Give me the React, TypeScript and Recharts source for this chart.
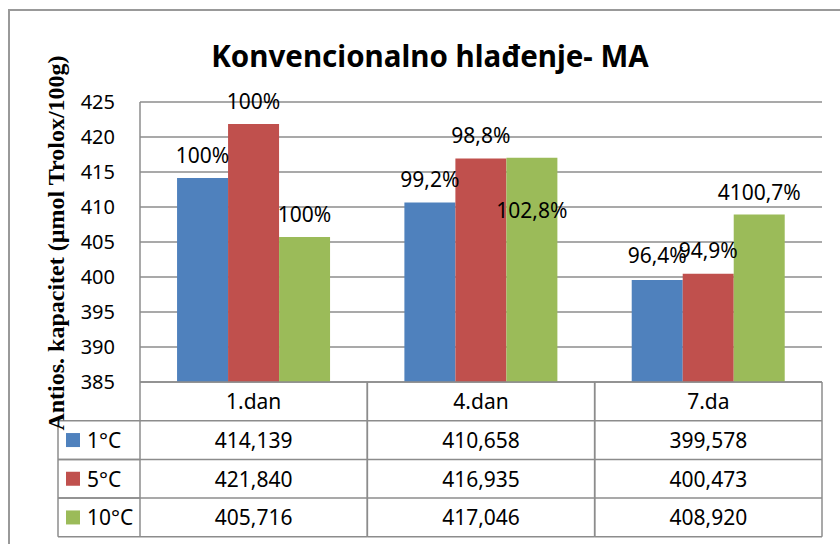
import { BarChart, Bar, XAxis, YAxis, CartesianGrid, LabelList } from 'recharts';

const categories = ['1.dan', '4.dan', '7.da'];
const series = ['1°C', '5°C', '10°C'];
const values1 = [414.139, 410.658, 399.578];
const values5 = [421.84, 416.935, 400.473];
const values10 = [405.716, 417.046, 408.92];
const pct1 = ['100%', '99,2%', '96,4%'];
const pct5 = ['100%', '98,8%', '94,9%'];
const pct10 = ['100%', '102,8%', '4100,7%'];
const yTicks = [385, 390, 395, 400, 405, 410, 415, 420, 425];

const COLORS = ['#4F81BD', '#C0504D', '#9BBB59'];
const GRID = '#8c8c8c';
const FONT = '"Noto Sans", "Open Sans", sans-serif';

const W = 840;
const H = 544;
const M = { top: 102, right: 18, bottom: 7, left: 100 };
const Y_AXIS_W = 40;
const PLOT_W = W - M.left - M.right - Y_AXIS_W;
const COL_W = PLOT_W / categories.length;
const ROW_H = 38.7;
const LEGEND_W = 82;

const allValues = [values1, values5, values10];
const allPct = [pct1, pct5, pct10];

const data = categories.map((name, i) => ({
  name,
  s0: values1[i],
  s1: values5[i],
  s2: values10[i],
}));

// manual nudges for labels (Excel had one dragged inside the bar)
const LABEL_DY = [
  [-23, -23, -25],
  [-23, -23, -24],
  [-23, 52, -23],
];

const fmt = (v: number) => v.toFixed(3).replace('.', ',');

function makeLabel(si: number) {
  return (props: any) => {
    const { x, y, width, index } = props;
    return (
      <text
        x={x + width / 2}
        y={y + LABEL_DY[si][index]}
        textAnchor="middle"
        dominantBaseline="central"
        fontFamily={FONT}
        fontSize={21}
        fill="#000"
      >
        {allPct[si][index]}
      </text>
    );
  };
}

function TableTick(props: any) {
  const { x, y, payload } = props;
  const i = payload.index;
  const left = x - COL_W / 2;
  const right = x + COL_W / 2;
  const rows = series.length + 1;
  const bottom = y + ROW_H * rows;
  return (
    <g>
      <line x1={left} y1={y} x2={left} y2={bottom} stroke={GRID} strokeWidth={1.5} />
      <line x1={right} y1={y} x2={right} y2={bottom} stroke={GRID} strokeWidth={1.5} />
      {Array.from({ length: rows }, (_, r) => (
        <line key={r} x1={left} y1={y + ROW_H * (r + 1)} x2={right} y2={y + ROW_H * (r + 1)} stroke={GRID} strokeWidth={1.5} />
      ))}
      <text x={x} y={y + ROW_H / 2} textAnchor="middle" dominantBaseline="central" fontFamily={FONT} fontSize={21} fill="#000">
        {payload.value}
      </text>
      {series.map((_, s) => (
        <text
          key={s}
          x={x}
          y={y + ROW_H * (s + 1.5)}
          textAnchor="middle"
          dominantBaseline="central"
          fontFamily={FONT}
          fontSize={21}
          fill="#000"
        >
          {fmt(allValues[s][i])}
        </text>
      ))}
      {i === 0 && (
        <g>
          <line x1={left - LEGEND_W} y1={y + ROW_H} x2={left - LEGEND_W} y2={bottom} stroke={GRID} strokeWidth={1.5} />
          {series.map((name, s) => (
            <g key={name}>
              <line
                x1={left - LEGEND_W}
                y1={y + ROW_H * (s + 2)}
                x2={left}
                y2={y + ROW_H * (s + 2)}
                stroke={GRID}
                strokeWidth={1.5}
              />
              <line
                x1={left - LEGEND_W}
                y1={y + ROW_H * (s + 1)}
                x2={left}
                y2={y + ROW_H * (s + 1)}
                stroke={GRID}
                strokeWidth={1.5}
              />
              <rect x={left - LEGEND_W + 8} y={y + ROW_H * (s + 1.5) - 7} width={14} height={14} fill={COLORS[s]} />
              <text
                x={left - LEGEND_W + 29}
                y={y + ROW_H * (s + 1.5)}
                dominantBaseline="central"
                fontFamily={FONT}
                fontSize={21}
                fill="#000"
              >
                {name}
              </text>
            </g>
          ))}
        </g>
      )}
    </g>
  );
}

export default function App() {
  return (
    <div style={{ position: 'fixed', left: 0, top: 0, width: W, height: H, background: '#fff', overflow: 'hidden' }}>
      <BarChart
        width={W}
        height={H}
        data={data}
        margin={M}
        barCategoryGap="16.3%"
        barGap={0}
      >
        <CartesianGrid vertical={false} stroke={GRID} strokeWidth={1.5} />
        <XAxis
          dataKey="name"
          height={155}
          axisLine={{ stroke: GRID, strokeWidth: 1.5 }}
          tickLine={false}
          tickSize={0}
          tickMargin={0}
          interval={0}
          tick={<TableTick />}
        />
        <YAxis
          width={Y_AXIS_W}
          domain={[385, 425]}
          ticks={yTicks}
          interval={0}
          axisLine={{ stroke: GRID, strokeWidth: 1.5 }}
          tickLine={false}
          tickMargin={19}
          tick={{ fontFamily: FONT, fontSize: 20, fill: '#000' }}
        />
        {series.map((name, si) => (
          <Bar key={name} dataKey={`s${si}`} name={name} fill={COLORS[si]} isAnimationActive={false}>
            <LabelList dataKey={`s${si}`} content={makeLabel(si)} />
          </Bar>
        ))}
      </BarChart>
      <svg width={W} height={H} style={{ position: 'absolute', left: 0, top: 0, pointerEvents: 'none' }}>
        <path d={`M9 ${H + 5} V10 H${W + 5}`} fill="none" stroke="#999" strokeWidth={2} />
        <text x={430} y={67} textAnchor="middle" fontFamily={FONT} fontWeight="bold" fontSize={29.5} fill="#000">
          Konvencionalno hlađenje- MA
        </text>
        <text
          transform="translate(64 243) rotate(-90)"
          textAnchor="middle"
          fontFamily='"Liberation Serif", "DejaVu Serif", serif'
          fontWeight="bold"
          fontSize={24}
          fill="#000"
        >
          Antios. kapacitet (µmol Trolox/100g)
        </text>
      </svg>
    </div>
  );
}
